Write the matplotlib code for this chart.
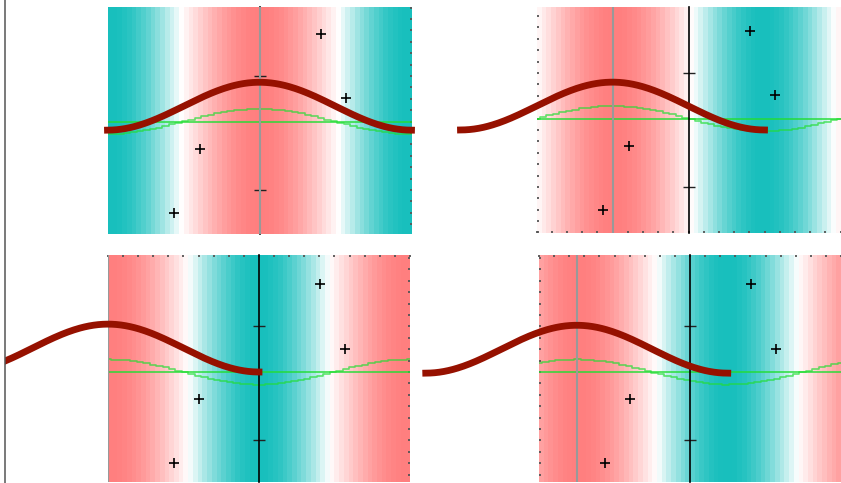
import numpy as np
import matplotlib
matplotlib.use("Agg")
import matplotlib.pyplot as plt
from matplotlib.colors import LinearSegmentedColormap, TwoSlopeNorm
from matplotlib.lines import Line2D
from matplotlib.patches import Rectangle
from matplotlib.ticker import MultipleLocator, NullFormatter

# -----------------------------
# Data
# -----------------------------
phases = [0.0, np.pi / 2, np.pi, 3 * np.pi / 4]      # phase of the background wave per panel
red_base = [0.05, 0.0, 0.20, 0.18]                     # baseline of the thick red bump
red_amp = 0.84                                          # height of the red bump
green_level = 0.2                                       # flat green line
green_amp = 0.22                                        # amplitude of the stepped green wave
n_bands = 64                                            # background columns
n_steps = 48                                            # samples of the stepped wave

pts_x = [-1.76, -1.24, 1.27, 1.78]
pts_y = [-1.40, -0.28, 1.74, 0.61]

ytick_vals = [-1, 1]

W, H = 841, 483

# axes rectangles (pixels: left, top, right, bottom) and y limits
rects_px = [(107.5, 7.3, 411.5, 234.0),
            (536.5, 7.0, 840.5, 233.0),
            (108.0, 255.0, 410.0, 482.0),
            (539.0, 255.0, 841.0, 482.0)]
ylims = [(-1.772, 2.205), (-1.81, 2.16), (-1.73, 2.253), (-1.73, 2.253)]
edge_sides = [["right"], ["left", "bottom"], ["top", "right"], ["top", "left"]]

cmap = LinearSegmentedColormap.from_list("tealsalmon", ["#18bfbd", "#ffffff", "#ff7f7f"])
norm = TwoSlopeNorm(vmin=-1, vcenter=-0.08, vmax=1)


def edge_ticks(ax, side):
    if side in ("top", "bottom"):
        sec = ax.secondary_xaxis(side)
        sec.xaxis.set_major_locator(MultipleLocator(np.pi / 10))
        sec.xaxis.set_major_formatter(NullFormatter())
    else:
        sec = ax.secondary_yaxis(side)
        sec.yaxis.set_major_locator(MultipleLocator(0.2))
        sec.yaxis.set_major_formatter(NullFormatter())
    for s in sec.spines.values():
        s.set_visible(False)
    sec.tick_params(direction="in", length=1.5, width=1.3, color="#555555")


fig = plt.figure(figsize=(W / 100, H / 100), dpi=100)
fig_clip = Rectangle((4.5 / W, 0), 1, 1, transform=fig.transFigure)

for i, phi in enumerate(phases):
    l, t, r, b = rects_px[i]
    ax = fig.add_axes([l / W, 1 - b / H, (r - l) / W, (b - t) / H])
    y0, y1 = ylims[i]

    # background wave
    xs = np.linspace(-np.pi, np.pi, n_bands)
    ax.imshow(np.cos(xs + phi)[None, :], cmap=cmap, norm=norm,
              extent=[-np.pi, np.pi, y0, y1], aspect="auto",
              interpolation="nearest", zorder=0)

    # green lines
    ax.axhline(green_level, color="#22dd33", lw=1.4, alpha=0.75, zorder=2)
    xg = np.linspace(-np.pi, np.pi, n_steps)
    ax.plot(xg, green_level + green_amp * np.cos(xg + phi), color="#22dd33",
            lw=1.2, alpha=0.7, drawstyle="steps-mid", zorder=2)

    # gray marker of the wave crest
    ax.axvline(-phi, color="#999999", lw=1.5, zorder=3.5)

    # points
    ax.plot(pts_x, pts_y, ls="none", marker="+", ms=7.5, mew=1.2,
            color="black", zorder=4)

    # thick red bump, not clipped to the axes
    xr = np.linspace(-np.pi - phi, np.pi - phi, 200)
    line, = ax.plot(xr, red_base[i] + red_amp * (1 + np.cos(xr + phi)) / 2,
                    color="#961100", lw=4.9, solid_capstyle="projecting", zorder=5)
    line.set_clip_path(fig_clip)

    ax.set_xlim(-np.pi, np.pi)
    ax.set_ylim(y0, y1)

    for s in ("top", "right", "bottom"):
        ax.spines[s].set_visible(False)
    ax.spines["left"].set_position(("data", 0))
    ax.spines["left"].set_color("black")
    ax.spines["left"].set_linewidth(1.2)
    ax.set_xticks([])
    ax.set_yticks(ytick_vals)
    ax.set_yticklabels([])
    ax.tick_params(axis="y", direction="inout", length=8, width=1, color="#222222")

    for side in edge_sides[i]:
        edge_ticks(ax, side)

fig.add_artist(Line2D([4.5 / W, 4.5 / W], [0, 1], transform=fig.transFigure,
                      color="#555555", lw=1.1))

fig.savefig("out.png", dpi=100)
